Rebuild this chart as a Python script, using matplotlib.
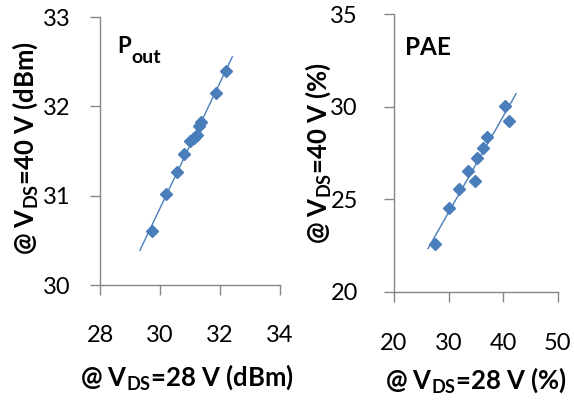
import matplotlib
matplotlib.use("Agg")
import matplotlib.pyplot as plt
from matplotlib.transforms import offset_copy
import numpy as np

plt.rcParams['font.family'] = ['Lato', 'DejaVu Sans']
plt.rcParams['mathtext.fontset'] = 'custom'
plt.rcParams['mathtext.rm'] = 'Lato:weight=bold'
plt.rcParams['mathtext.it'] = 'Lato:weight=bold'
plt.rcParams['mathtext.bf'] = 'Lato:weight=bold'

# Pout data (dBm)
pout_28 = [29.74, 30.19, 30.55, 30.79, 31.00, 31.13, 31.22, 31.31, 31.38, 31.86, 32.20]
pout_40 = [30.61, 31.02, 31.26, 31.47, 31.61, 31.65, 31.68, 31.78, 31.83, 32.15, 32.39]
pout_trend_range = [29.33, 32.41]

# PAE data (%)
pae_28 = [27.6, 30.1, 32.0, 33.6, 34.8, 35.3, 36.3, 37.0, 40.4, 41.0]
pae_40 = [22.56, 24.54, 25.56, 26.54, 26.0, 27.23, 27.79, 28.36, 30.02, 29.23]
pae_trend_range = [26.23, 42.36]

left_xticks = [28, 30, 32, 34]
left_yticks = [30, 31, 32, 33]
right_xticks = [20, 30, 40, 50]
right_yticks = [20, 25, 30, 35]

blue = '#4A7EBB'
gray = '#868686'

fig = plt.figure(figsize=(5.74, 4.0), dpi=100)
axL = fig.add_axes([100/574, 1-285/400, 180/574, 268/400])
axR = fig.add_axes([394/574, 1-291.7/400, 163.7/574, 277.4/400])


def style(ax, xpad, ypad):
    for s in ['top', 'right']:
        ax.spines[s].set_visible(False)
    for s in ['left', 'bottom']:
        ax.spines[s].set_color(gray)
        ax.spines[s].set_linewidth(1.0)
    ax.tick_params(axis='both', direction='out', length=7, width=1.0, color=gray,
                   labelsize=17, labelcolor='black')
    ax.tick_params(axis='x', pad=xpad)
    ax.tick_params(axis='y', pad=ypad)


def draw(ax, x, y, tr):
    coef = np.polyfit(x, y, 1)
    tx = np.array(tr)
    ax.plot(tx, np.polyval(coef, tx), color=blue, lw=1.0, zorder=2)
    ax.plot(x, y, linestyle='none', marker='D', markersize=6.5, color=blue,
            markeredgecolor=blue, zorder=3, clip_on=False)


LBL = 18.5

draw(axL, pout_28, pout_40, pout_trend_range)
axL.set_xlim(28, 34)
axL.set_ylim(30, 33)
axL.set_xticks(left_xticks)
axL.set_yticks(left_yticks)
style(axL, 22, 14)
axL.set_xlabel(r'@ $\mathbf{V_{DS}}$=28 V (dBm)', fontsize=LBL, fontweight='bold', va='center')
axL.xaxis.set_label_coords(0.483, -0.343)
axL.set_ylabel(r'@ $\mathbf{V_{DS}}$=40 V (dBm)', fontsize=LBL, fontweight='bold', va='center')
axL.yaxis.set_label_coords(-0.417, 0.511)
tP = axL.text(0.094, 0.866, 'P', transform=axL.transAxes, fontsize=16,
              fontweight='bold', ha='left', va='baseline')

draw(axR, pae_28, pae_40, pae_trend_range)
axR.set_xlim(20, 50)
axR.set_ylim(20, 35)
axR.set_xticks(right_xticks)
axR.set_yticks(right_yticks)
style(axR, 23, 19)
axR.set_xlabel(r'@ $\mathbf{V_{DS}}$=28 V (%)', fontsize=LBL, fontweight='bold', va='center')
axR.xaxis.set_label_coords(0.5, -0.318)
axR.set_ylabel(r'@ $\mathbf{V_{DS}}$=40 V (%)', fontsize=LBL, fontweight='bold', va='center')
axR.yaxis.set_label_coords(-0.464, 0.5)
axR.text(0.067, 0.853, 'PAE', transform=axR.transAxes, fontsize=17.5, fontweight='bold',
         ha='left', va='baseline')

# subscript "out" placed right after the "P"
fig.canvas.draw()
bb = tP.get_window_extent()
x_end = axL.transAxes.inverted().transform((bb.x1, bb.y0))[0]
axL.text(x_end, 0.866, 'out', transform=offset_copy(axL.transAxes, fig, x=1, y=-10, units='dots'),
         fontsize=14, fontweight='bold', ha='left', va='baseline')

fig.savefig('out.png', dpi=100)
